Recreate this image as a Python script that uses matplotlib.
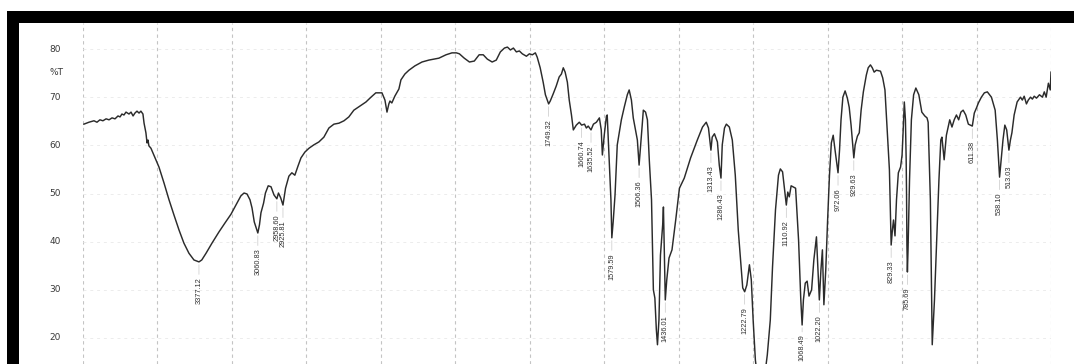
import numpy as np
import matplotlib
matplotlib.use("Agg")
import matplotlib.pyplot as plt
from matplotlib.patches import Rectangle

# FTIR transmittance spectrum: wavenumber (cm-1) and %T
wavenumber = [
    3995, 3968, 3941, 3925, 3909, 3893, 3876, 3860, 3844, 3828, 3812, 3801, 3791, 3780,
    3769, 3753, 3742, 3731, 3721, 3710, 3699, 3689, 3678, 3672, 3662, 3656, 3651, 3646,
    3635, 3613, 3592, 3565, 3538, 3511, 3484, 3458, 3431, 3404, 3377.12, 3362, 3339,
    3307, 3270, 3237, 3205, 3173, 3152, 3135, 3119, 3103, 3092, 3080, 3060.83, 3052,
    3044, 3030, 3020, 3005, 2990, 2974, 2958.60, 2950, 2938, 2925.81, 2912, 2894, 2878,
    2862, 2845, 2829, 2808, 2786, 2760, 2733, 2706, 2679, 2652, 2625, 2598, 2572, 2545,
    2518, 2480, 2453, 2427, 2394, 2378, 2367, 2357, 2351, 2341, 2325, 2303, 2292, 2271,
    2249, 2217, 2179, 2142, 2088, 2050, 2018,
    1997, 1989, 1976, 1962, 1949, 1936, 1925, 1914, 1901, 1890, 1879, 1868, 1860, 1852,
    1844, 1836, 1828, 1820, 1809, 1801, 1793, 1785, 1780, 1772, 1764, 1758, 1749.32,
    1745, 1737, 1729, 1721, 1715, 1710, 1705, 1699, 1694, 1688, 1683, 1675, 1667,
    1660.74, 1653, 1648, 1643, 1635.52, 1629, 1621, 1613, 1608, 1605, 1600, 1594, 1592,
    1589, 1582, 1579.59, 1576, 1571, 1565, 1554, 1546, 1538, 1533, 1527, 1522, 1511,
    1506.36, 1502, 1498, 1495, 1489, 1484, 1479, 1473, 1468, 1464, 1460, 1457, 1453,
    1449, 1446, 1443, 1441, 1438, 1436.01, 1432, 1426, 1418, 1408, 1398, 1385, 1368,
    1350, 1336, 1326, 1320, 1313.43, 1310, 1304, 1296, 1291, 1286.43, 1283, 1277, 1272,
    1264, 1256, 1248, 1240, 1228, 1222.79, 1217, 1210, 1205, 1200, 1194, 1189, 1178,
    1167, 1162, 1154, 1148, 1140, 1132, 1127, 1121, 1110.92, 1107, 1103, 1098, 1086,
    1078, 1072, 1068.49, 1065, 1060, 1055, 1050, 1043, 1037, 1030, 1022.20, 1018, 1014,
    1010, 1005, 1000, 995, 990, 985, 980, 972.06, 968, 964, 959, 953, 947, 942, 937,
    929.63, 926, 920, 915, 910, 904, 896, 891, 885, 880, 875, 869, 858, 852, 846,
    840, 834, 829.33, 826, 823, 819, 815, 810, 804, 800, 797, 794, 791, 789, 788, 787,
    785.69, 784, 780, 775, 769, 763, 755, 747, 739, 733, 730, 724, 719, 713, 707, 701,
    696, 693, 687, 681, 672, 666, 660, 654, 648, 642, 636, 629, 622, 611.38, 606, 600,
    595, 587, 579, 571, 560, 550, 544, 538.10, 534, 529, 524, 519, 513.03, 509, 505,
    499, 491, 482, 477, 472, 466, 461, 455, 450, 445, 439, 431, 423, 418, 413, 407,
    402, 400,
]
transmittance = [
    64.4, 64.8, 65.1, 64.8, 65.3, 65.1, 65.5, 65.3, 65.7, 65.5, 66.1, 65.9, 66.5, 66.3,
    66.9, 66.5, 66.9, 66.1, 66.7, 67.1, 66.7, 67.1, 66.5, 64.6, 62.6, 60.5, 61.1, 59.9,
    59.4, 57.4, 55.5, 52.2, 48.7, 45.5, 42.4, 39.7, 37.6, 36.2, 35.8, 36.2, 37.6,
    39.7, 42.0, 43.9, 45.7, 48.0, 49.5, 50.1, 49.9, 48.7, 47.0, 44.1, 41.8, 43.5,
    46.0, 48.0, 50.1, 51.6, 51.4, 49.7, 48.9, 50.1, 49.1, 47.6, 51.1, 53.6, 54.3,
    53.8, 55.7, 57.4, 58.6, 59.4, 60.1, 60.7, 61.7, 63.6, 64.4, 64.6, 65.1, 65.9, 67.3,
    68.0, 69.0, 70.0, 70.9, 70.9, 69.4, 66.9, 68.6, 69.2, 68.8, 70.2, 71.7, 73.6, 74.8,
    75.6, 76.5, 77.3, 77.7, 78.1, 78.8, 79.2,
    79.2, 79.0, 78.1, 77.3, 77.5, 78.8, 78.8, 77.9, 77.3, 77.7, 79.4, 80.2, 80.4, 79.8,
    80.2, 79.4, 79.6, 79.0, 78.5, 79.0, 78.8, 79.2, 78.3, 76.1, 73.1, 70.5, 68.6,
    69.2, 70.7, 72.3, 74.2, 74.8, 76.1, 75.2, 73.1, 69.4, 66.3, 63.2, 64.2, 64.8,
    64.2, 64.4, 63.6, 64.0, 63.2, 64.4, 64.8, 65.7, 63.2, 58.0, 62.1, 66.1, 66.3,
    61.1, 48.7, 40.8, 44.1, 49.7, 60.1, 65.3, 68.0, 70.5, 71.5, 69.4, 65.7, 61.1,
    55.9, 60.1, 64.2, 67.3, 66.9, 65.3, 57.0, 48.7, 30.0, 28.3, 21.7, 18.6, 23.8,
    37.2, 40.3, 43.5, 47.2, 36.2, 27.9, 32.1, 36.6, 38.3, 44.5, 51.1, 53.2, 57.4,
    61.1, 63.8, 64.8, 63.6, 59.0, 61.7, 62.4, 60.7, 55.9, 53.2, 60.1, 63.6, 64.4,
    63.8, 61.1, 53.8, 42.4, 30.4, 29.6, 31.0, 35.2, 32.1, 23.7, 15.4, 12.3, 11.3,
    13.4, 16.5, 23.7, 34.7, 46.6, 53.8, 55.1, 54.5, 47.6, 50.3, 49.3, 51.6, 51.1,
    40.3, 27.9, 22.7, 27.9, 31.4, 31.8, 28.7, 30.0, 36.2, 41.0, 27.9, 34.1, 38.3,
    26.9, 34.1, 44.5, 53.8, 60.5, 62.1, 59.0, 54.3, 59.0, 65.3, 70.0, 71.3, 69.8, 67.9, 64.2,
    57.4, 60.1, 61.9, 62.6, 67.3, 71.1, 74.6, 76.1, 76.7, 76.1, 75.2, 75.6, 75.4, 74.0, 71.5,
    63.2, 54.9, 39.3, 42.4, 44.5, 41.2, 48.7, 54.3, 55.5, 58.0, 63.2, 69.0, 65.3, 57.0, 49.7, 39.3,
    33.7, 38.3, 52.8, 65.3, 70.5, 71.9, 70.5, 66.9, 66.1, 65.7, 64.8, 48.7, 18.6, 27.9, 40.3, 52.8,
    61.1, 61.7, 57.0, 62.1, 65.3, 63.8, 65.3, 66.3, 65.3, 66.9, 67.3, 66.3, 64.4, 64.0, 66.7, 67.8,
    68.8, 70.0, 70.9, 71.1, 70.0, 67.3, 61.1, 53.4, 56.9, 61.1, 64.2, 63.2, 59.0, 61.1, 62.6,
    66.3, 69.0, 70.0, 69.4, 70.2, 68.6, 69.4, 70.0, 69.6, 70.2, 69.8, 70.5, 70.0, 71.1, 70.0, 72.9,
    71.5, 75.2,
]

# Annotated band positions (cm-1)
peak_labels = [
    3377.12, 3060.83, 2958.60, 2925.81, 1749.32, 1660.74, 1635.52, 1579.59, 1506.36,
    1436.01, 1313.43, 1286.43, 1222.79, 1110.92, 1068.49, 1022.20, 972.06, 929.63,
    829.33, 785.69, 611.38, 538.10, 513.03,
]

y_ticks = [20, 30, 40, 50, 60, 70, 80]
x_grid = [4000, 3600, 3200, 2800, 2400, 2000, 1800, 1600, 1400, 1200, 1000, 800, 600, 400]

w = np.asarray(wavenumber, dtype=float)
t = np.asarray(transmittance, dtype=float)


# Instrument chart: 400 cm-1 per division above 2000, 200 cm-1 per division below.
# forward() grows with wavenumber; the axis limits then run 4000 -> 400 left to right.
def forward(v):
    v = np.asarray(v, dtype=float)
    return -np.where(v >= 2000, (4000 - v) / 400.0, 5 + (2000 - v) / 200.0)


def inverse(u):
    u = -np.asarray(u, dtype=float)
    return np.where(u <= 5, 4000 - 400.0 * u, 2000 - 200.0 * (u - 5))


W, H = 1074, 364
fig = plt.figure(figsize=(W / 100, H / 100), dpi=100)
fig.patch.set_facecolor("white")

ax = fig.add_axes([83 / W, 0, 968 / W, (H - 23) / H])
ax.set_xscale("function", functions=(forward, inverse))
ax.set_xlim(4000, 400)
ax.set_ylim(14.6, 85.4)
ax.set_xticks(x_grid)
ax.set_yticks(y_ticks)
ax.tick_params(axis="both", length=0, labelbottom=False, labelleft=False)
for s in ax.spines.values():
    s.set_visible(False)

ax.grid(axis="x", color="#c4c4c4", linestyle=(0, (3, 3)), linewidth=0.8)
ax.grid(axis="y", color="#ececec", linestyle=(0, (3, 4)), linewidth=0.7)

ax.plot(w, t, color="#2b2b2b", linewidth=1.05, solid_joinstyle="round")

# y-axis numbers and unit
ytf = ax.get_yaxis_transform()
for v in y_ticks:
    ax.text(-0.035, v, f"{v}", transform=ytf, ha="left", va="center",
            fontsize=6.5, color="#3a3a3a", family="DejaVu Sans")
ax.text(-0.035, 75.2, "%T", transform=ytf, ha="left", va="center",
        fontsize=6.5, color="#3a3a3a", family="DejaVu Sans")

# band annotations beneath each minimum; deep bands get a shorter leader
label_font = ["Liberation Sans Narrow", "Liberation Sans", "DejaVu Sans"]
for p in peak_labels:
    near = np.abs(w - p) < 4
    yv = t[near].min() if near.any() else np.interp(p, w[::-1], t[::-1])
    gap = -11 if yv > 24 else -7
    ax.annotate(f"{p:.2f}", xy=(p, yv), xytext=(0, gap), textcoords="offset points",
                rotation=90, ha="center", va="top", fontsize=5.3, color="#303030",
                family=label_font,
                arrowprops=dict(arrowstyle="-", color="#c8c8c8", lw=0.5,
                                shrinkA=0, shrinkB=2))

# dark scan frame along top and left edges
fig.add_artist(Rectangle((7 / W, (H - 23) / H), 1 - 7 / W, 12 / H,
                         transform=fig.transFigure, facecolor="black",
                         edgecolor="none", zorder=10))
fig.add_artist(Rectangle((7 / W, 0), 12 / W, (H - 11) / H,
                         transform=fig.transFigure, facecolor="black",
                         edgecolor="none", zorder=10))

fig.savefig("out.png", dpi=100, facecolor="white")
